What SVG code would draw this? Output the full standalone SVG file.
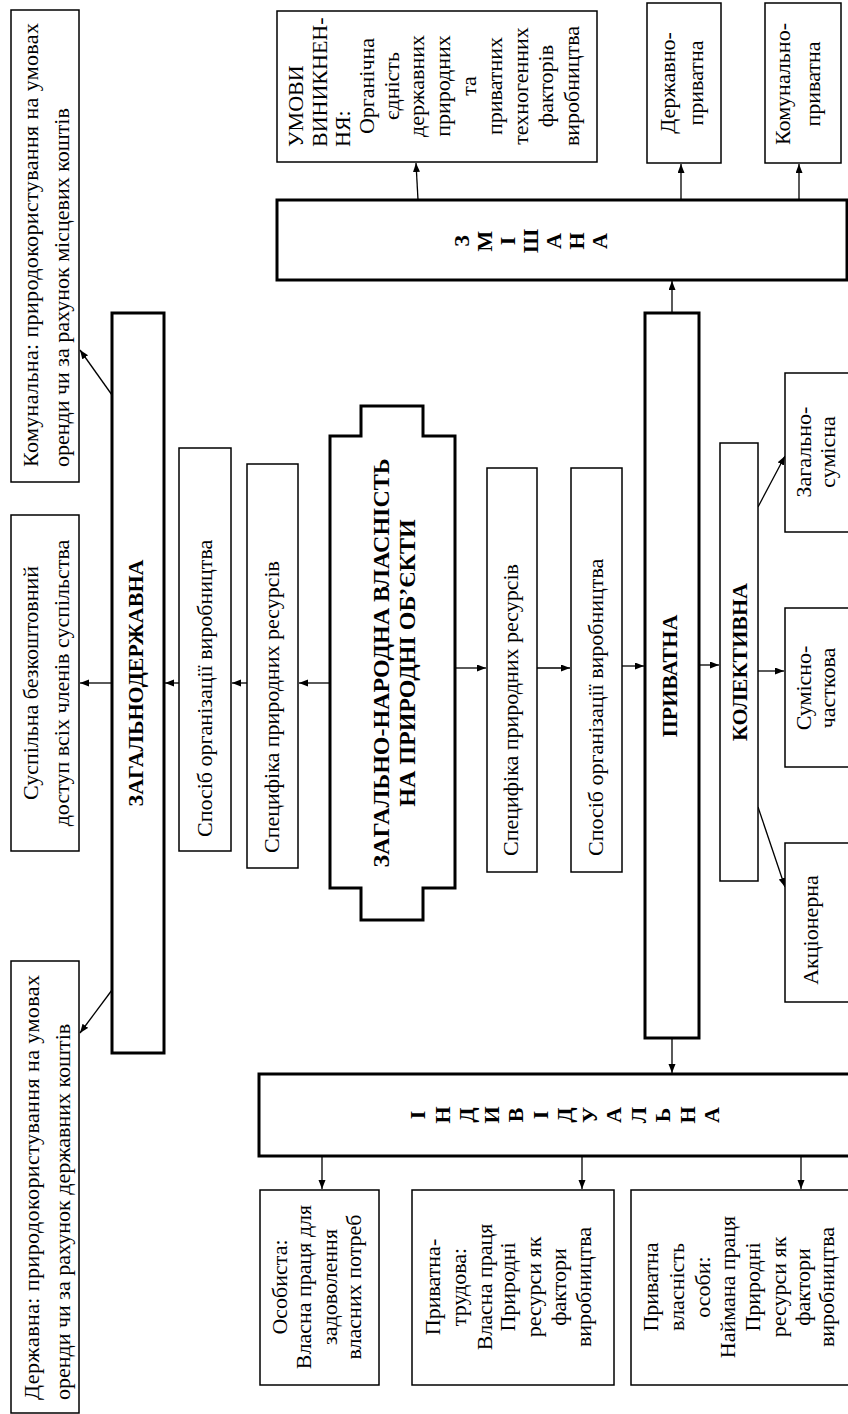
<svg xmlns="http://www.w3.org/2000/svg" width="848" height="1414" viewBox="0 0 848 1414">
<defs>
<style>
.b{fill:#fff;stroke:#000;stroke-width:1.5}
.B{fill:#fff;stroke:#000;stroke-width:3}
text{font-family:"Liberation Serif","Times New Roman",serif;font-size:22px;fill:#000}
.bd{font-weight:bold}
.c{stroke:#000;stroke-width:1.3;fill:none;marker-end:url(#ah)}
</style>
<marker id="ah" markerUnits="userSpaceOnUse" markerWidth="10" markerHeight="8" refX="9" refY="3.5" orient="auto"><path d="M0,0 L9,3.5 L0,7 z" fill="#000"/></marker>
</defs>
<rect width="848" height="1414" fill="#fff"/>

<g id="connectors">
<line class="c" x1="112" y1="395" x2="80" y2="350"/>
<line class="c" x1="112" y1="683" x2="80" y2="683"/>
<line class="c" x1="112" y1="990" x2="80" y2="1033"/>
<line class="c" x1="179" y1="683" x2="165" y2="683"/>
<line class="c" x1="247" y1="683" x2="232" y2="683"/>
<line class="c" x1="330" y1="683" x2="299" y2="683"/>
<line class="c" x1="455" y1="668" x2="486" y2="668"/>
<line class="c" x1="537" y1="668" x2="570" y2="668"/>
<line class="c" x1="622" y1="666" x2="644" y2="666"/>
<line class="c" x1="699" y1="665" x2="719" y2="665"/>
<line class="c" x1="758" y1="671" x2="784" y2="671"/>
<line class="c" x1="758" y1="507" x2="785" y2="456"/>
<line class="c" x1="758" y1="807" x2="785" y2="887"/>
<line class="c" x1="672" y1="313" x2="672" y2="281"/>
<line class="c" x1="418" y1="200" x2="416" y2="163"/>
<line class="c" x1="681" y1="200" x2="681" y2="164"/>
<line class="c" x1="799" y1="200" x2="799" y2="164"/>
<line class="c" x1="672" y1="1038" x2="672" y2="1073"/>
<line class="c" x1="322" y1="1156" x2="322" y2="1189"/>
<line class="c" x1="582" y1="1156" x2="582" y2="1189"/>
<line class="c" x1="801" y1="1156" x2="801" y2="1189"/>
</g>

<g id="komunalna">
<rect class="b" x="11" y="10" width="68" height="472"/>
<text transform="translate(38,467) rotate(-90)" textLength="444" lengthAdjust="spacing">Комунальна: природокористування на умовах</text>
<text transform="translate(69,467) rotate(-90)">оренди чи за рахунок місцевих коштів</text>
</g>

<g id="suspilna">
<rect class="b" x="11" y="515" width="68" height="336"/>
<text transform="translate(38,683) rotate(-90)" text-anchor="middle">Суспільна безкоштовний</text>
<text transform="translate(69,683) rotate(-90)" text-anchor="middle">доступ всіх членів суспільства</text>
</g>

<g id="derzhavna">
<rect class="b" x="11" y="961" width="68" height="452"/>
<text transform="translate(39,1400) rotate(-90)" textLength="425" lengthAdjust="spacing">Державна: природокористування на умовах</text>
<text transform="translate(70,1400) rotate(-90)">оренди чи за рахунок державних коштів</text>
</g>

<g id="zagalnoderzhavna">
<rect class="B" x="112" y="313" width="52" height="740"/>
<text class="bd" transform="translate(143,683) rotate(-90)" text-anchor="middle">ЗАГАЛЬНОДЕРЖАВНА</text>
</g>

<g id="sposib-left">
<rect class="b" x="179" y="448" width="52" height="403"/>
<text transform="translate(212,837) rotate(-90)">Спосіб організації виробництва</text>
</g>

<g id="specyfika-left">
<rect class="b" x="247" y="464" width="51" height="404"/>
<text transform="translate(279,853) rotate(-90)">Специфіка природних ресурсів</text>
</g>

<g id="center">
<polygon fill="#fff" stroke="#000" stroke-width="3" points="361,406 423,406 423,436 455,436 455,888 423,888 423,920 361,920 361,888 330,888 330,436 361,436"/>
<text class="bd" style="font-size:24px" transform="translate(389,663) rotate(-90)" text-anchor="middle">ЗАГАЛЬНО-НАРОДНА ВЛАСНІСТЬ</text>
<text class="bd" style="font-size:24px" transform="translate(415,663) rotate(-90)" text-anchor="middle">НА ПРИРОДНІ ОБ’ЄКТИ</text>
</g>

<g id="specyfika-right">
<rect class="b" x="487" y="468" width="50" height="404"/>
<text transform="translate(518,856) rotate(-90)">Специфіка природних ресурсів</text>
</g>

<g id="sposib-right">
<rect class="b" x="571" y="468" width="51" height="404"/>
<text transform="translate(603,856) rotate(-90)">Спосіб організації виробництва</text>
</g>

<g id="pryvatna">
<rect class="B" x="645" y="313" width="54" height="725"/>
<text class="bd" transform="translate(677,676) rotate(-90)" text-anchor="middle">ПРИВАТНА</text>
</g>

<g id="kolektyvna">
<rect class="b" x="720" y="443" width="38" height="438"/>
<text class="bd" transform="translate(747,662) rotate(-90)" text-anchor="middle">КОЛЕКТИВНА</text>
</g>

<g id="zagalno-sumisna">
<rect class="b" x="785" y="373" width="66" height="159"/>
<text transform="translate(811,452) rotate(-90)" text-anchor="middle">Загально-</text>
<text transform="translate(835,452) rotate(-90)" text-anchor="middle">сумісна</text>
</g>

<g id="sumisno-chastkova">
<rect class="b" x="785" y="608" width="66" height="159"/>
<text transform="translate(811,688) rotate(-90)" text-anchor="middle">Сумісно-</text>
<text transform="translate(835,688) rotate(-90)" text-anchor="middle">часткова</text>
</g>

<g id="aktsionerna">
<rect class="b" x="785" y="843" width="66" height="159"/>
<text transform="translate(818,930) rotate(-90)" text-anchor="middle">Акціонерна</text>
</g>

<g id="zmishana">
<rect class="B" x="277" y="200" width="570" height="80"/>
<text class="bd" transform="translate(469,241) rotate(-90)" text-anchor="middle">З</text>
<text class="bd" transform="translate(492,241) rotate(-90)" text-anchor="middle">М</text>
<text class="bd" transform="translate(515,241) rotate(-90)" text-anchor="middle">І</text>
<text class="bd" transform="translate(538,241) rotate(-90)" text-anchor="middle">Ш</text>
<text class="bd" transform="translate(561,241) rotate(-90)" text-anchor="middle">А</text>
<text class="bd" transform="translate(584,241) rotate(-90)" text-anchor="middle">Н</text>
<text class="bd" transform="translate(607,241) rotate(-90)" text-anchor="middle">А</text>
</g>

<g id="umovy">
<rect class="b" x="277" y="11" width="320" height="151"/>
<text transform="translate(303,147) rotate(-90)">УМОВИ</text>
<text transform="translate(327,147) rotate(-90)">ВИНИКНЕН-</text>
<text transform="translate(350,147) rotate(-90)">НЯ:</text>
<text transform="translate(374,86) rotate(-90)" text-anchor="middle">Органічна</text>
<text transform="translate(399,86) rotate(-90)" text-anchor="middle">єдність</text>
<text transform="translate(424,86) rotate(-90)" text-anchor="middle">державних</text>
<text transform="translate(450,86) rotate(-90)" text-anchor="middle">природних</text>
<text transform="translate(476,86) rotate(-90)" text-anchor="middle">та</text>
<text transform="translate(502,86) rotate(-90)" text-anchor="middle">приватних</text>
<text transform="translate(528,86) rotate(-90)" text-anchor="middle">техногенних</text>
<text transform="translate(553,86) rotate(-90)" text-anchor="middle">факторів</text>
<text transform="translate(579,86) rotate(-90)" text-anchor="middle">виробництва</text>
</g>

<g id="derzhavno-pryvatna">
<rect class="b" x="647" y="3" width="74" height="160"/>
<text transform="translate(675,83) rotate(-90)" text-anchor="middle">Державно-</text>
<text transform="translate(703,83) rotate(-90)" text-anchor="middle">приватна</text>
</g>

<g id="komunalno-pryvatna">
<rect class="b" x="765" y="3" width="76" height="160"/>
<text transform="translate(790,84) rotate(-90)" text-anchor="middle">Комунально-</text>
<text transform="translate(820,84) rotate(-90)" text-anchor="middle">приватна</text>
</g>

<g id="indyvidualna">
<rect class="B" x="259" y="1074" width="592" height="82"/>
<text class="bd" transform="translate(425,1115) rotate(-90)" text-anchor="middle">І</text>
<text class="bd" transform="translate(449.5,1115) rotate(-90)" text-anchor="middle">Н</text>
<text class="bd" transform="translate(474,1115) rotate(-90)" text-anchor="middle">Д</text>
<text class="bd" transform="translate(498.5,1115) rotate(-90)" text-anchor="middle">И</text>
<text class="bd" transform="translate(523,1115) rotate(-90)" text-anchor="middle">В</text>
<text class="bd" transform="translate(547.5,1115) rotate(-90)" text-anchor="middle">І</text>
<text class="bd" transform="translate(572,1115) rotate(-90)" text-anchor="middle">Д</text>
<text class="bd" transform="translate(596.5,1115) rotate(-90)" text-anchor="middle">У</text>
<text class="bd" transform="translate(621,1115) rotate(-90)" text-anchor="middle">А</text>
<text class="bd" transform="translate(645.5,1115) rotate(-90)" text-anchor="middle">Л</text>
<text class="bd" transform="translate(670,1115) rotate(-90)" text-anchor="middle">Ь</text>
<text class="bd" transform="translate(694.5,1115) rotate(-90)" text-anchor="middle">Н</text>
<text class="bd" transform="translate(719,1115) rotate(-90)" text-anchor="middle">А</text>
</g>

<g id="osobysta">
<rect class="b" x="260" y="1190" width="119" height="195"/>
<text transform="translate(287,1287) rotate(-90)" text-anchor="middle">Особиста:</text>
<text transform="translate(311,1287) rotate(-90)" text-anchor="middle">Власна праця для</text>
<text transform="translate(337,1287) rotate(-90)" text-anchor="middle">задоволення</text>
<text transform="translate(361,1287) rotate(-90)" text-anchor="middle">власних потреб</text>
</g>

<g id="pryvatna-trudova">
<rect class="b" x="412" y="1190" width="202" height="195"/>
<text transform="translate(440,1287) rotate(-90)" text-anchor="middle">Приватна-</text>
<text transform="translate(466,1287) rotate(-90)" text-anchor="middle">трудова:</text>
<text transform="translate(492,1287) rotate(-90)" text-anchor="middle">Власна праця</text>
<text transform="translate(515,1287) rotate(-90)" text-anchor="middle">Природні</text>
<text transform="translate(541,1287) rotate(-90)" text-anchor="middle">ресурси як</text>
<text transform="translate(566,1287) rotate(-90)" text-anchor="middle">фактори</text>
<text transform="translate(591,1287) rotate(-90)" text-anchor="middle">виробництва</text>
</g>

<g id="pryvatna-vlasnist">
<rect class="b" x="631" y="1190" width="220" height="195"/>
<text transform="translate(658,1287) rotate(-90)" text-anchor="middle">Приватна</text>
<text transform="translate(684,1287) rotate(-90)" text-anchor="middle">власність</text>
<text transform="translate(710,1287) rotate(-90)" text-anchor="middle">особи:</text>
<text transform="translate(735,1287) rotate(-90)" text-anchor="middle">Наймана праця</text>
<text transform="translate(760,1287) rotate(-90)" text-anchor="middle">Природні</text>
<text transform="translate(786,1287) rotate(-90)" text-anchor="middle">ресурси як</text>
<text transform="translate(810,1287) rotate(-90)" text-anchor="middle">фактори</text>
<text transform="translate(834,1287) rotate(-90)" text-anchor="middle">виробництва</text>
</g>
</svg>
